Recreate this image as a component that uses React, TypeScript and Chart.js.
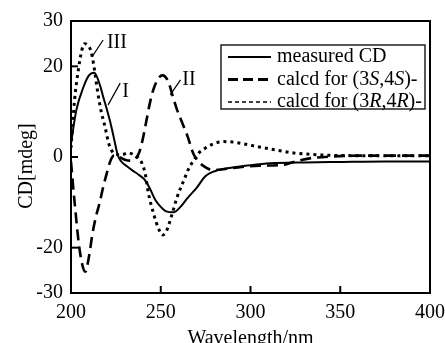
import React, { useEffect, useRef } from "react";
import { Chart, registerables } from "chart.js";

Chart.register(...registerables);

const FONT = "'Liberation Serif', 'Times New Roman', Times, serif";

// Measured CD (curve I)
const measuredWl = [200, 203, 207, 210, 213, 216, 218, 220, 222, 224, 226, 228, 231, 234, 238, 241, 244, 247, 250, 253, 257, 261, 265, 270, 275, 282, 290, 300, 311, 330, 350, 375, 400];
const measuredCd = [3, 10.4, 15.5, 18, 18.6, 16, 13.2, 10.5, 7.5, 4, 0.5, -1, -2, -2.9, -4, -5, -7, -9.5, -11, -12, -12.2, -11, -9, -6.8, -4.2, -2.9, -2.3, -1.8, -1.4, -1.2, -1.1, -1.0, -1.0];

// Calculated for (3S,4S) (curve II)
const calcdSSWl = [200, 202, 205, 208, 210, 212, 214, 216, 218, 220, 222, 224, 227, 230, 233, 236, 238, 240, 242, 244, 246, 249, 251, 254, 257, 259, 262, 265, 268, 271, 275, 279, 285, 295, 305, 317, 325, 333, 345, 360, 380, 400];
const calcdSSCd = [-1, -10, -21, -25.3, -22, -16.8, -13, -10, -6.5, -3.5, -0.8, 0.3, 0, -0.6, -0.8, -0.3, 1, 4, 8, 12, 15, 17.5, 18, 16.8, 13, 10.5, 7.5, 4.5, 0.9, -1, -2.3, -2.9, -2.7, -2.2, -1.9, -1.8, -1, -0.3, 0.1, 0.3, 0.3, 0.3];

// Calculated for (3R,4R) (curve III)
const calcdRRWl = [200, 202, 204, 206, 207.5, 209, 211, 212.5, 215, 217, 219, 221, 223, 225, 228, 232, 235, 237, 240, 241.5, 243, 246, 249, 251, 253, 256, 259, 263, 266, 268, 271, 275, 280, 285, 290, 295, 305, 315, 324, 343, 360, 380, 400];
const calcdRRCd = [2, 12.6, 19, 23.5, 25, 24.8, 23.5, 20.7, 14, 9.7, 6.6, 3, 1.2, 0.6, 0.5, 0.9, 0.5, 0, -1.8, -4, -7.7, -12.5, -16, -17.2, -16.5, -13, -9, -5, -2.2, -1, 0.8, 2, 3, 3.4, 3.3, 3, 2.2, 1.5, 0.9, 0.4, 0.3, 0.3, 0.3];

const xTicks = [200, 250, 300, 350, 400];
const yTicks = [-30, -20, 0, 20, 30];

const xTitle = "Wavelength/nm";
const yTitle = "CD[mdeg]";

// legend rows: text segments [text, italic]
const legendRows: [string, boolean][][] = [
  [["measured CD", false]],
  [["calcd for (3", false], ["S", true], [",4", false], ["S", true], [")-", false]],
  [["calcd for (3", false], ["R", true], [",4", false], ["R", true], [")-", false]],
];

// curve labels in data space (wavelength, CD) with leader lines
const curveLabels = ["I", "II", "III"];
const curveLabelAt = [[228.5, 14.3], [262, 17], [220, 25.2]];
const leaderFrom = [[220.7, 11.5], [255.3, 13.7], [211.7, 22.1]];
const leaderTo = [[227.4, 16.3], [261, 17], [217.9, 25.8]];

const lineStyles = [
  { width: 2, dash: [] as number[] },
  { width: 2.6, dash: [11, 6] },
  { width: 3, dash: [3, 4] },
];
const legendStyles = [
  { width: 2, dash: [] as number[] },
  { width: 3, dash: [10, 5] },
  { width: 1.3, dash: [4, 3] },
];

const decorPlugin = {
  id: "decor",
  afterDraw(chart: any) {
    const { ctx, chartArea: a, scales } = chart;
    const x = scales.x;
    const y = scales.y;
    ctx.save();
    ctx.strokeStyle = "#000";
    ctx.fillStyle = "#000";
    ctx.setLineDash([]);
    ctx.lineWidth = 2;
    ctx.strokeRect(a.left, a.top, a.right - a.left, a.bottom - a.top);
    // inward tick marks
    xTicks.forEach((v) => {
      const px = x.getPixelForValue(v);
      ctx.beginPath();
      ctx.moveTo(px, a.bottom);
      ctx.lineTo(px, a.bottom - 7);
      ctx.stroke();
    });
    yTicks.forEach((v) => {
      const py = y.getPixelForValue(v);
      ctx.beginPath();
      ctx.moveTo(a.left, py);
      ctx.lineTo(a.left + 7, py);
      ctx.stroke();
    });
    // curve labels + leader lines
    ctx.lineWidth = 1.2;
    ctx.font = `20px ${FONT}`;
    ctx.textBaseline = "middle";
    ctx.textAlign = "left";
    curveLabels.forEach((t, i) => {
      ctx.beginPath();
      ctx.moveTo(x.getPixelForValue(leaderFrom[i][0]), y.getPixelForValue(leaderFrom[i][1]));
      ctx.lineTo(x.getPixelForValue(leaderTo[i][0]), y.getPixelForValue(leaderTo[i][1]));
      ctx.stroke();
      ctx.fillText(t, x.getPixelForValue(curveLabelAt[i][0]), y.getPixelForValue(curveLabelAt[i][1]));
    });
    // y title
    ctx.save();
    ctx.translate(27, (a.top + a.bottom) / 2 + 9);
    ctx.rotate(-Math.PI / 2);
    ctx.textAlign = "center";
    ctx.fillText(yTitle, 0, 0);
    ctx.restore();
    // legend
    const bw = 204, bh = 64;
    const bx = a.right - 5 - bw;
    const by = a.top + 24;
    ctx.lineWidth = 1.3;
    ctx.strokeRect(bx, by, bw, bh);
    legendRows.forEach((segs, i) => {
      const cy = by + 12 + i * 22.5;
      const st = legendStyles[i];
      ctx.lineWidth = st.width;
      ctx.setLineDash(st.dash);
      ctx.beginPath();
      ctx.moveTo(bx + 7, cy);
      ctx.lineTo(bx + 50, cy);
      ctx.stroke();
      ctx.setLineDash([]);
      let tx = bx + 56;
      segs.forEach(([s, it]) => {
        ctx.font = `${it ? "italic " : ""}20px ${FONT}`;
        ctx.fillText(s, tx, cy);
        tx += ctx.measureText(s).width;
      });
    });
    ctx.restore();
  },
};

export default function App() {
  const ref = useRef<HTMLCanvasElement | null>(null);
  useEffect(() => {
    document.body.style.margin = "0";
    const series = [
      [measuredWl, measuredCd],
      [calcdSSWl, calcdSSCd],
      [calcdRRWl, calcdRRCd],
    ];
    const chart = new Chart(ref.current as HTMLCanvasElement, {
      type: "line",
      data: {
        datasets: series.map(([wl, cd], i) => ({
          label: ["measured CD", "calcd for (3S,4S)-", "calcd for (3R,4R)-"][i],
          data: wl.map((w, j) => ({ x: w, y: cd[j] })),
          borderColor: "#000",
          borderWidth: lineStyles[i].width,
          borderDash: lineStyles[i].dash,
          pointRadius: 0,
          fill: false,
          cubicInterpolationMode: "monotone" as const,
        })),
      },
      options: {
        animation: false,
        responsive: false,
        layout: { padding: { top: 21, right: 15, left: 0, bottom: 0 } },
        plugins: { legend: { display: false }, tooltip: { enabled: false } },
        scales: {
          x: {
            type: "linear",
            min: 200,
            max: 400,
            afterBuildTicks: (s: any) => {
              s.ticks = xTicks.map((v) => ({ value: v }));
            },
            afterFit: (s: any) => {
              s.height = 50;
              s.paddingLeft = 0;
              s.paddingRight = 0;
            },
            grid: { display: false, drawTicks: false },
            border: { display: false },
            ticks: { color: "#000", font: { family: FONT, size: 20 }, padding: 8, maxRotation: 0 },
            title: {
              display: true,
              text: xTitle,
              color: "#000",
              font: { family: FONT, size: 20, lineHeight: 1 },
              padding: { top: 0, bottom: -6 },
            },
          },
          y: {
            type: "linear",
            min: -30,
            max: 30,
            afterBuildTicks: (s: any) => {
              s.ticks = yTicks.map((v) => ({ value: v }));
            },
            afterFit: (s: any) => {
              s.width = 71;
              s.paddingTop = 0;
              s.paddingBottom = 0;
            },
            grid: { display: false, drawTicks: false },
            border: { display: false },
            ticks: { color: "#000", font: { family: FONT, size: 20 }, padding: 8 },
          },
        },
      },
      plugins: [decorPlugin],
    });
    return () => chart.destroy();
  }, []);
  return (
    <div style={{ position: "fixed", left: 0, top: 0, width: 445, height: 343, background: "#fff" }}>
      <canvas ref={ref} width={445} height={343} />
    </div>
  );
}
